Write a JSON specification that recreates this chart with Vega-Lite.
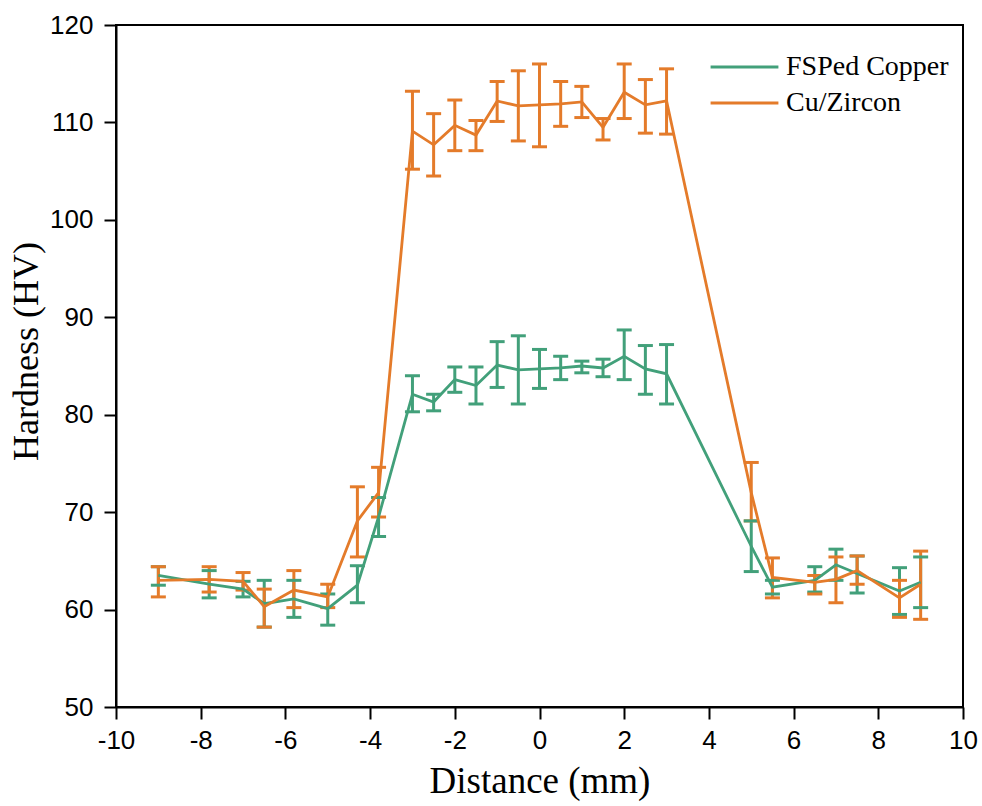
{
  "$schema": "https://vega.github.io/schema/vega-lite/v6.json",
  "width": 847,
  "height": 682,
  "autosize": {"type": "none"},
  "padding": {"left": 116, "top": 25, "right": 19, "bottom": 99},
  "background": "white",
  "config": {
    "view": {"stroke": "black", "strokeWidth": 2},
    "axis": {
      "grid": false,
      "domainColor": "black",
      "domainWidth": 2,
      "tickColor": "black",
      "tickWidth": 2,
      "tickSize": 12,
      "labelFont": "Liberation Sans",
      "labelFontSize": 26,
      "labelColor": "black",
      "titleFont": "Liberation Serif",
      "titleFontSize": 37,
      "titleFontWeight": "normal",
      "titleColor": "black"
    }
  },
  "data": {
    "values": [
      {"series": "FSPed Copper", "x": -9, "y": 63.5, "lo": 62.5, "hi": 64.4},
      {"series": "FSPed Copper", "x": -7.8, "y": 62.6, "lo": 61.2, "hi": 64.0},
      {"series": "FSPed Copper", "x": -7, "y": 62.1, "lo": 61.3, "hi": 62.9},
      {"series": "FSPed Copper", "x": -6.5, "y": 60.6, "lo": 58.2, "hi": 63.0},
      {"series": "FSPed Copper", "x": -5.8, "y": 61.1, "lo": 59.2, "hi": 63.0},
      {"series": "FSPed Copper", "x": -5, "y": 60.1, "lo": 58.4, "hi": 61.6},
      {"series": "FSPed Copper", "x": -4.3, "y": 62.5, "lo": 60.7, "hi": 64.5},
      {"series": "FSPed Copper", "x": -3.8, "y": 69.5, "lo": 67.5, "hi": 71.5},
      {"series": "FSPed Copper", "x": -3, "y": 82.1, "lo": 80.3, "hi": 84.0},
      {"series": "FSPed Copper", "x": -2.5, "y": 81.3, "lo": 80.4, "hi": 82.1},
      {"series": "FSPed Copper", "x": -2, "y": 83.6, "lo": 82.3, "hi": 84.9},
      {"series": "FSPed Copper", "x": -1.5, "y": 83.0, "lo": 81.1, "hi": 84.9},
      {"series": "FSPed Copper", "x": -1, "y": 85.1, "lo": 82.8, "hi": 87.5},
      {"series": "FSPed Copper", "x": -0.5, "y": 84.6, "lo": 81.1, "hi": 88.1},
      {"series": "FSPed Copper", "x": 0, "y": 84.7, "lo": 82.7, "hi": 86.7},
      {"series": "FSPed Copper", "x": 0.5, "y": 84.8, "lo": 83.6, "hi": 86.0},
      {"series": "FSPed Copper", "x": 1, "y": 85.0, "lo": 84.3, "hi": 85.5},
      {"series": "FSPed Copper", "x": 1.5, "y": 84.8, "lo": 83.9, "hi": 85.7},
      {"series": "FSPed Copper", "x": 2, "y": 86.0, "lo": 83.6, "hi": 88.7},
      {"series": "FSPed Copper", "x": 2.5, "y": 84.7, "lo": 82.1, "hi": 87.1},
      {"series": "FSPed Copper", "x": 3, "y": 84.2, "lo": 81.1, "hi": 87.2},
      {"series": "FSPed Copper", "x": 5, "y": 66.5, "lo": 63.9, "hi": 69.1},
      {"series": "FSPed Copper", "x": 5.5, "y": 62.3, "lo": 61.6, "hi": 63.0},
      {"series": "FSPed Copper", "x": 6.5, "y": 63.0, "lo": 61.8, "hi": 64.4},
      {"series": "FSPed Copper", "x": 7, "y": 64.6, "lo": 63.0, "hi": 66.2},
      {"series": "FSPed Copper", "x": 7.5, "y": 63.7, "lo": 61.7, "hi": 65.5},
      {"series": "FSPed Copper", "x": 8.5, "y": 61.9, "lo": 59.5, "hi": 64.3},
      {"series": "FSPed Copper", "x": 9, "y": 62.8, "lo": 60.2, "hi": 65.4},
      {"series": "Cu/Zircon", "x": -9, "y": 63.0, "lo": 61.3, "hi": 64.4},
      {"series": "Cu/Zircon", "x": -7.8, "y": 63.1, "lo": 61.8, "hi": 64.4},
      {"series": "Cu/Zircon", "x": -7, "y": 62.9, "lo": 62.0, "hi": 63.8},
      {"series": "Cu/Zircon", "x": -6.5, "y": 60.3, "lo": 58.2, "hi": 62.1},
      {"series": "Cu/Zircon", "x": -5.8, "y": 62.0, "lo": 60.2, "hi": 64.0},
      {"series": "Cu/Zircon", "x": -5, "y": 61.3, "lo": 60.2, "hi": 62.6},
      {"series": "Cu/Zircon", "x": -4.3, "y": 69.1, "lo": 65.4, "hi": 72.6},
      {"series": "Cu/Zircon", "x": -3.8, "y": 72.0, "lo": 69.5, "hi": 74.6},
      {"series": "Cu/Zircon", "x": -3, "y": 109.1, "lo": 105.2, "hi": 113.2},
      {"series": "Cu/Zircon", "x": -2.5, "y": 107.7, "lo": 104.5, "hi": 110.9},
      {"series": "Cu/Zircon", "x": -2, "y": 109.7, "lo": 107.1, "hi": 112.3},
      {"series": "Cu/Zircon", "x": -1.5, "y": 108.7, "lo": 107.1, "hi": 110.2},
      {"series": "Cu/Zircon", "x": -1, "y": 112.2, "lo": 110.1, "hi": 114.2},
      {"series": "Cu/Zircon", "x": -0.5, "y": 111.7, "lo": 108.1, "hi": 115.3},
      {"series": "Cu/Zircon", "x": 0, "y": 111.8, "lo": 107.5, "hi": 116.0},
      {"series": "Cu/Zircon", "x": 0.5, "y": 111.9, "lo": 109.6, "hi": 114.2},
      {"series": "Cu/Zircon", "x": 1, "y": 112.1, "lo": 110.5, "hi": 113.7},
      {"series": "Cu/Zircon", "x": 1.5, "y": 109.5, "lo": 108.2, "hi": 110.4},
      {"series": "Cu/Zircon", "x": 2, "y": 113.1, "lo": 110.4, "hi": 116.0},
      {"series": "Cu/Zircon", "x": 2.5, "y": 111.8, "lo": 108.9, "hi": 114.4},
      {"series": "Cu/Zircon", "x": 3, "y": 112.2, "lo": 108.8, "hi": 115.5},
      {"series": "Cu/Zircon", "x": 5, "y": 72.0, "lo": 69.1, "hi": 75.1},
      {"series": "Cu/Zircon", "x": 5.5, "y": 63.3, "lo": 61.2, "hi": 65.3},
      {"series": "Cu/Zircon", "x": 6.5, "y": 62.8, "lo": 61.6, "hi": 63.5},
      {"series": "Cu/Zircon", "x": 7, "y": 63.1, "lo": 60.7, "hi": 65.4},
      {"series": "Cu/Zircon", "x": 7.5, "y": 64.0, "lo": 62.6, "hi": 65.5},
      {"series": "Cu/Zircon", "x": 8.5, "y": 61.2, "lo": 59.2, "hi": 63.0},
      {"series": "Cu/Zircon", "x": 9, "y": 62.6, "lo": 59.0, "hi": 66.0}
    ]
  },
  "encoding": {
    "x": {
      "field": "x", "type": "quantitative",
      "scale": {"domain": [-10, 10], "nice": false, "zero": false},
      "axis": {"values": [-10, -8, -6, -4, -2, 0, 2, 4, 6, 8, 10], "title": "Distance (mm)", "labelPadding": 8, "titlePadding": 10, "labelFlush": false, "labelExpr": "toString(datum.value)"}
    },
    "color": {
      "field": "series", "type": "nominal",
      "scale": {"domain": ["FSPed Copper", "Cu/Zircon"], "range": ["#42a07a", "#e47b2a"]},
      "legend": {
        "title": null,
        "orient": "none",
        "legendX": 593,
        "legendY": 24,
        "symbolType": "stroke",
        "symbolSize": 4600,
        "symbolStrokeWidth": 3,
        "symbolOpacity": 1,
        "clipHeight": 36,
        "labelFont": "Liberation Serif",
        "labelFontSize": 28,
        "labelLimit": 400,
        "labelColor": "black",
        "labelOffset": 6,
        "rowPadding": 0,
        "padding": 0
      }
    }
  },
  "layer": [
    {
      "mark": {"type": "rule", "strokeWidth": 3},
      "encoding": {
        "y": {"field": "lo", "type": "quantitative"},
        "y2": {"field": "hi"}
      }
    },
    {
      "mark": {"type": "tick", "orient": "horizontal", "size": 15, "thickness": 3, "opacity": 1},
      "encoding": {"y": {"field": "lo", "type": "quantitative"}}
    },
    {
      "mark": {"type": "tick", "orient": "horizontal", "size": 15, "thickness": 3, "opacity": 1},
      "encoding": {"y": {"field": "hi", "type": "quantitative"}}
    },
    {
      "mark": {"type": "line", "strokeWidth": 2.8},
      "encoding": {
        "y": {
          "field": "y", "type": "quantitative",
          "scale": {"domain": [50, 120], "nice": false, "zero": false},
          "axis": {"values": [50, 60, 70, 80, 90, 100, 110, 120], "title": "Hardness (HV)", "labelPadding": 11, "titlePadding": 4, "titleFontSize": 36, "titleY": 326, "labelFlush": false}
        }
      }
    }
  ]
}
